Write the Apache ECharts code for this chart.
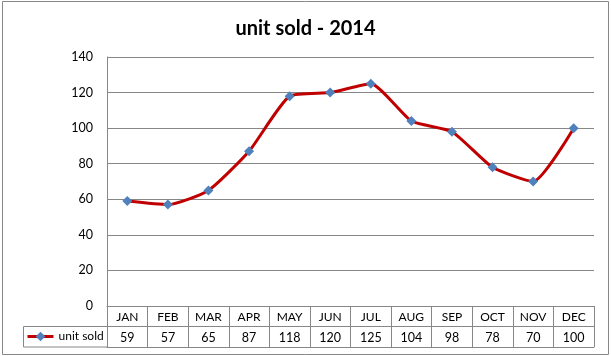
<!DOCTYPE html>
<html>
<head>
<meta charset="utf-8">
<script src="https://cdn.jsdelivr.net/npm/echarts@6/dist/echarts.min.js"></script>
<style>
html,body{margin:0;padding:0;background:#fff;}
#c{width:611px;height:356px;}
</style>
</head>
<body>
<div id="c"></div>
<script>
var titleText = 'unit sold - 2014';
var seriesName = 'unit sold';
var categories = ['JAN','FEB','MAR','APR','MAY','JUN','JUL','AUG','SEP','OCT','NOV','DEC'];
var unitSold = [59, 57, 65, 87, 118, 120, 125, 104, 98, 78, 70, 100];
var yTicks = [0, 20, 40, 60, 80, 100, 120, 140];

var FONT = 'Lato, "Liberation Sans", sans-serif';
var GRAY = '#878787';
var G = {left:107, top:57, right:17, bottom:50};
var W = 611, H = 356;
var rowH = 20.5;
var gridBottomY = H - G.bottom;
var tableLeft = 23;

var chart = echarts.init(document.getElementById('c'), null, {renderer:'canvas'});
chart.setOption({
  backgroundColor:'#fff',
  animation:false,
  title:{
    text:titleText, left:'center', top:14,
    textStyle:{fontFamily:FONT, fontSize:20, fontWeight:'bold', color:'#000'}
  },
  legend:{
    data:[seriesName], left:tableLeft+3, top:gridBottomY+rowH+4, padding:0,
    itemWidth:26, itemHeight:12,
    lineStyle:{color:'#C00000', width:3},
    itemStyle:{color:'#4F81BD'},
    textStyle:{fontFamily:FONT, fontSize:12, color:'#000'}
  },
  grid:{left:G.left, top:G.top, right:G.right, bottom:G.bottom, containLabel:false},
  xAxis:[
    {type:'category', data:categories, position:'bottom', boundaryGap:true,
     axisLine:{show:true, lineStyle:{color:GRAY, width:1}},
     axisTick:{show:true, interval:0, inside:false, length:rowH*2, lineStyle:{color:GRAY, width:1}},
     axisLabel:{interval:0, margin:5, fontFamily:FONT, fontSize:12, color:'#000'},
     splitLine:{show:false}},
    {type:'category', data:categories, position:'bottom', offset:rowH,
     axisLine:{show:true, lineStyle:{color:GRAY, width:1}},
     axisTick:{show:false},
     axisLabel:{interval:0, margin:5, fontFamily:FONT, fontSize:12.5, color:'#000',
       formatter:function(v, i){ return String(unitSold[i]); }},
     splitLine:{show:false}},
    {type:'category', data:categories, position:'bottom', offset:rowH*2,
     axisLine:{show:true, lineStyle:{color:GRAY, width:1}},
     axisTick:{show:false}, axisLabel:{show:false}, splitLine:{show:false}}
  ],
  yAxis:{
    type:'value', min:yTicks[0], max:yTicks[yTicks.length-1], interval:yTicks[1]-yTicks[0],
    axisLine:{show:true, lineStyle:{color:GRAY, width:1}},
    axisTick:{show:false},
    axisLabel:{margin:14, fontFamily:FONT, fontSize:12.5, color:'#000'},
    splitLine:{show:true, lineStyle:{color:GRAY, width:1}}
  },
  series:[{
    name:seriesName, type:'line', data:unitSold, xAxisIndex:0,
    smooth:0.18,
    symbol:'diamond', symbolSize:10,
    lineStyle:{color:'#C00000', width:3},
    itemStyle:{color:'#4F81BD', borderWidth:0},
    emphasis:{disabled:true}
  }],
  graphic:[
    {type:'rect', shape:{x:2.5, y:1.5, width:W-5, height:H-3}, style:{fill:null, stroke:GRAY, lineWidth:1}, silent:true, z:-1},
    {type:'line', shape:{x1:tableLeft+0.5, y1:gridBottomY+rowH, x2:G.left, y2:gridBottomY+rowH}, style:{stroke:GRAY, lineWidth:1}, silent:true},
    {type:'line', shape:{x1:tableLeft+0.5, y1:gridBottomY+rowH*2, x2:G.left, y2:gridBottomY+rowH*2}, style:{stroke:GRAY, lineWidth:1}, silent:true},
    {type:'line', shape:{x1:tableLeft+0.5, y1:gridBottomY+rowH, x2:tableLeft+0.5, y2:gridBottomY+rowH*2}, style:{stroke:GRAY, lineWidth:1}, silent:true}
  ]
});
</script>
</body>
</html>
